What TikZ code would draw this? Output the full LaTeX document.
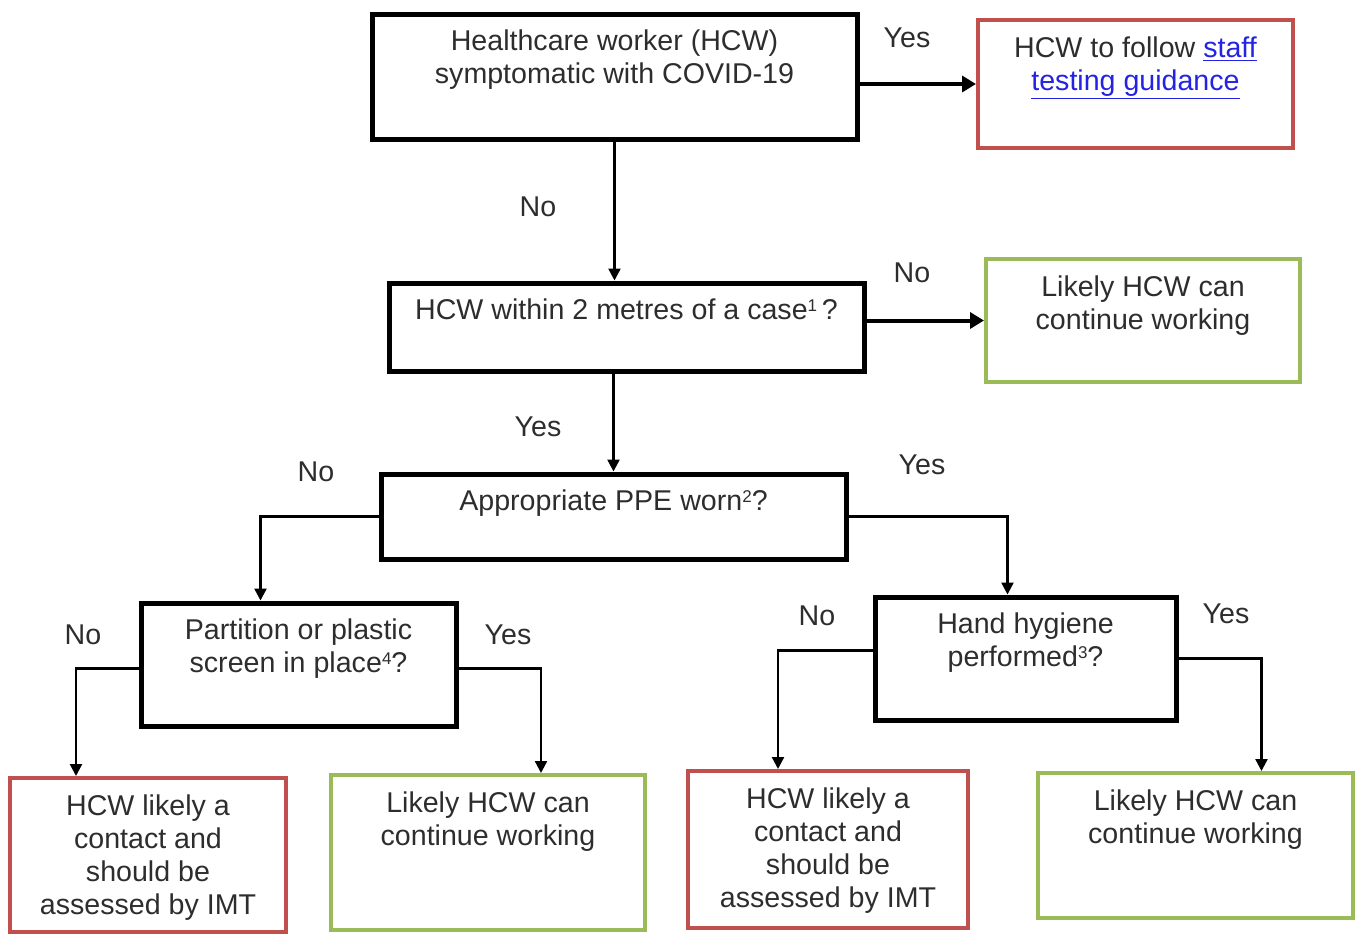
\documentclass[tikz,border=0pt]{standalone}
\usepackage{fontspec}
\setmainfont{Liberation Sans}
\usetikzlibrary{arrows.meta}
\definecolor{boxred}{RGB}{192,80,77}
\definecolor{boxgreen}{RGB}{155,187,89}
\definecolor{linkblue}{RGB}{35,35,225}
\definecolor{txtgray}{RGB}{45,45,45}
\newcommand{\weblink}[1]{\textcolor{linkblue}{\underline{#1}}}
\newcommand{\notenum}[1]{\raisebox{0.55ex}{\fontsize{8.5}{8.5}\selectfont #1}}

\begin{document}
\begin{tikzpicture}[x=0.5pt, y=-0.5pt,
    boxtext/.style={anchor=north, inner sep=0pt, align=center, text=txtgray, font=\fontsize{14.3}{16.5}\selectfont},
    qbox/.style={draw=black, line width=2.5pt, inner sep=0pt, label={[boxtext, label distance=-9pt]north:{#1}}},
    redbox/.style={draw=boxred, line width=2pt, inner sep=0pt, label={[boxtext, label distance=-9pt]north:{#1}}},
    greenbox/.style={draw=boxgreen, line width=2pt, inner sep=0pt, label={[boxtext, label distance=-9pt]north:{#1}}},
    answer/.style={inner sep=0pt, text=txtgray, font=\fontsize{14.3}{16.5}\selectfont},
    thinarrow/.style={-{Triangle[length=6pt,width=6pt]}, line width=1.2pt},
    thickarrow/.style={-{Triangle[length=7pt,width=8pt]}, line width=2pt}]
    \useasboundingbox (0,0) rectangle (1361,934);

    %question boxes
    \node[qbox={Healthcare worker (HCW)\\symptomatic with COVID-19}, minimum width=242.5pt, minimum height=62.5pt] (symptomatic) at (614.5,76.5) {};
    \node[qbox={HCW within 2 metres of a case\notenum{1}\,?}, minimum width=237.5pt, minimum height=44pt] (within) at (626.5,327) {};
    \node[qbox={Appropriate PPE worn\notenum{2}?}, minimum width=232.5pt, minimum height=42.5pt] (ppe) at (613.5,516.5) {};
    \node[qbox={Partition or plastic\\screen in place\notenum{4}?}, minimum width=157.5pt, minimum height=61.5pt] (partition) at (298.5,664.5) {};
    \node[qbox={Hand hygiene\\performed\notenum{3}?}, minimum width=150.5pt, minimum height=61.5pt] (hygiene) at (1025.5,658.5) {};

    %outcome boxes
    \node[redbox={HCW to follow \weblink{staff}\\\weblink{testing guidance}}, minimum width=157.5pt, minimum height=64pt] (testing) at (1135.5,84) {};
    \node[greenbox={Likely HCW can\\continue working}, minimum width=157pt, minimum height=61.5pt] (work1) at (1143,320.5) {};
    \node[redbox={HCW likely a\\contact and\\should be\\assessed by IMT}, minimum width=138pt, minimum height=77pt] (contact1) at (148,855) {};
    \node[greenbox={Likely HCW can\\continue working}, minimum width=157pt, minimum height=77.5pt] (work2) at (488,852.5) {};
    \node[redbox={HCW likely a\\contact and\\should be\\assessed by IMT}, minimum width=140pt, minimum height=78.5pt] (contact2) at (828,849.5) {};
    \node[greenbox={Likely HCW can\\continue working}, minimum width=157.5pt, minimum height=72.5pt] (work3) at (1195.5,845.5) {};

    %connectors
    \draw[thickarrow] (testing.west -| symptomatic.east) -- (testing.west);
    \draw[thinarrow] (symptomatic.south) -- (symptomatic.south |- within.north);
    \draw[thickarrow] (work1.west -| within.east) -- (work1.west);
    \draw[thinarrow] (ppe.north |- within.south) -- (ppe.north);
    \draw[thinarrow] (ppe.west) -| ([xshift=-19pt]partition.north);
    \draw[thinarrow] (ppe.east) -| ([xshift=-9pt]hygiene.north);
    \draw[thinarrow] ([yshift=-2pt]partition.west) -| ([xshift=-36pt]contact1.north);
    \draw[thinarrow] ([yshift=-2pt]partition.east) -| ([xshift=26.5pt]work2.north);
    \draw[thinarrow] ([yshift=4pt]hygiene.west) -| ([xshift=-25pt]contact2.north);
    \draw[thinarrow] (hygiene.east) -| ([xshift=33pt]work3.north);

    %yes / no
    \node[answer] (yes1) at (907,38) {Yes};
    \node[answer] (no1) at (538,207) {No};
    \node[answer] (no2) at (912,273) {No};
    \node[answer] (yes2) at (538,427) {Yes};
    \node[answer] (no3) at (316,472) {No};
    \node[answer] (yes3) at (922,465) {Yes};
    \node[answer] (no4) at (83,635) {No};
    \node[answer] (yes4) at (508,635) {Yes};
    \node[answer] (no5) at (817,616) {No};
    \node[answer] (yes5) at (1226,614) {Yes};
\end{tikzpicture}
\end{document}
